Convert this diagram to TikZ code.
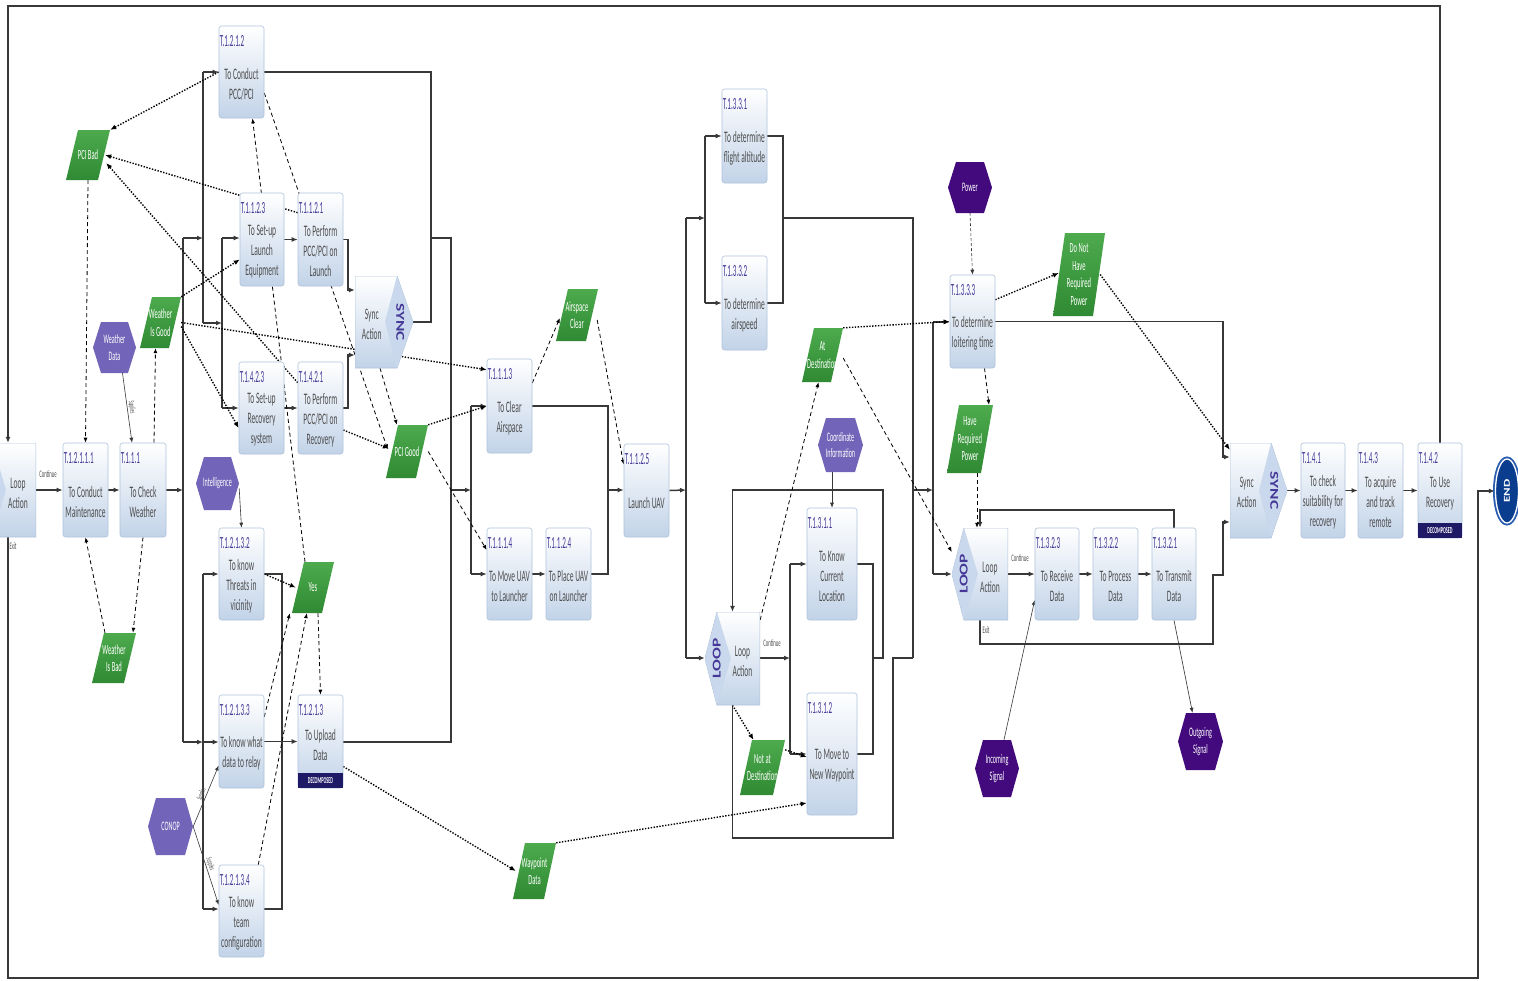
\documentclass[tikz,border=0pt]{standalone}
\usepackage{fontspec}
\setmainfont{Carlito}
\newfontfamily\nfd[FakeStretch=0.47]{Carlito}
\newfontfamily\nfi[FakeStretch=0.42]{Carlito}
\newfontfamily\widef[FakeStretch=1.45]{Carlito}
\usetikzlibrary{arrows.meta,shapes.geometric}
\pgfdeclarelayer{bg}
\pgfsetlayers{bg,main}
\definecolor{taskblue}{HTML}{C2D3E8}
\definecolor{taskborder}{HTML}{AFC3DB}
\definecolor{idblue}{HTML}{463897}
\definecolor{descgray}{HTML}{4E4E4E}
\definecolor{gtop}{HTML}{4DAA4D}
\definecolor{gbot}{HTML}{2F8A33}
\definecolor{lpurple}{HTML}{7264B8}
\definecolor{dpurple}{HTML}{420A7C}
\definecolor{navy}{HTML}{1E1A66}
\definecolor{linec}{HTML}{383838}
\definecolor{endblue}{HTML}{0B3D8F}
\definecolor{endring}{HTML}{2A5DB0}
\definecolor{loopin}{HTML}{C9D8EC}
\newcommand\task[7]{%
  \node[taskbox, minimum width={#4-#2}, minimum height={#5-#3}] (#1) at ({(#2+#4)/2},{(#3+#5)/2}) {};
  \node[idtxt, anchor=west] (#1i) at ([xshift=1pt,yshift=-15pt]#1.north west) {#6};
  \node[desctxt] (#1d) at ([yshift=-12pt]#1.center) {#7};
}
\newcommand\taskD[7]{%
  \node[taskbox, minimum width={#4-#2}, minimum height={#5-#3}] (#1) at ({(#2+#4)/2},{(#3+#5)/2}) {};
  \node[decomp, minimum width={#4-#2}, anchor=south] (#1x) at (#1.south) {DECOMPOSED};
  \node[idtxt, anchor=west] (#1i) at ([xshift=1pt,yshift=-15pt]#1.north west) {#6};
  \node[desctxt] (#1d) at ([yshift=-3pt]#1.center) {#7};
}
\newcommand\cond[6]{%
  \node[condbox, minimum width={#4-#2}, minimum height={#5-#3}] (#1) at ({(#2+#4)/2},{(#3+#5)/2}) {#6};
}
\newcommand\hexa[7]{%
  \node[hexbox=#6, minimum width={#4-#2}, minimum height={#5-#3}] (#1) at ({(#2+#4)/2},{(#3+#5)/2}) {#7};
}
\newcommand\loopshape[5]{%
  \node[loopbox, minimum width={#4-#2}, minimum height={#5-#3}] (#1) at ({(#2+#4)/2},{(#3+#5)/2}) {};
  \node[desctxt] (#1t) at ([xshift=10pt,yshift=-3pt]#1.center) {Loop\\Action};
}
\newcommand\loopnode[5]{%
  \loopshape{#1}{#2}{#3}{#4}{#5}
  \node[looptxt, rotate=90] (#1l) at ([xshift=12pt]#1.west) {LOOP};
}
\newcommand\syncnode[5]{%
  \node[syncbox, minimum width={#4-#2}, minimum height={#5-#3}] (#1) at ({(#2+#4)/2},{(#3+#5)/2}) {};
  \node[looptxt, rotate=-90] (#1l) at ([xshift=-13pt]#1.east) {SYNC};
  \node[desctxt] (#1t) at ([xshift=17pt,yshift=-2pt]#1.west) {Sync\\Action};
}
\begin{document}
\begin{tikzpicture}[x=1pt,y=-1pt,
  taskbox/.style={rectangle, rounded corners=2.5pt, draw=taskborder, line width=0.6pt, top color=white, bottom color=taskblue, inner sep=0pt},
  idtxt/.style={font=\nfi\fontsize{17}{19}\selectfont, text=idblue, inner sep=0pt},
  desctxt/.style={font=\nfd\fontsize{16}{20}\selectfont, text=descgray, align=center, inner sep=0pt},
  decomp/.style={rectangle, fill=navy, text=white, font=\nfd\bfseries\fontsize{9}{9}\selectfont, minimum height=15pt, inner sep=0pt},
  condbox/.style={rectangle, inner sep=0pt, align=center, text=white, font=\nfd\fontsize{14}{17.5}\selectfont,
    path picture={\shade[top color=gtop, bottom color=gbot]
      (path picture bounding box.south west) -- ([xshift=12pt]path picture bounding box.north west) --
      (path picture bounding box.north east) -- ([xshift=-12pt]path picture bounding box.south east) -- cycle;}},
  hexbox/.style={rectangle, inner sep=0pt, align=center, text=white, font=\nfd\fontsize{13}{16.5}\selectfont,
    path picture={\fill[#1]
      (path picture bounding box.west) -- ([xshift=8pt]path picture bounding box.north west) --
      ([xshift=-8pt]path picture bounding box.north east) -- (path picture bounding box.east) --
      ([xshift=-8pt]path picture bounding box.south east) -- ([xshift=8pt]path picture bounding box.south west) -- cycle;}},
  loopbox/.style={rectangle, inner sep=0pt,
    path picture={\path[draw=taskborder, line width=0.8pt, top color=white, bottom color=taskblue]
      (path picture bounding box.west) -- ([xshift=12pt]path picture bounding box.north west) --
      (path picture bounding box.north east) -- (path picture bounding box.south east) --
      ([xshift=12pt]path picture bounding box.south west) -- cycle;
      \fill[loopin] (path picture bounding box.west) -- ([xshift=12pt]path picture bounding box.north west) --
      ([xshift=26pt]path picture bounding box.west) -- ([xshift=12pt]path picture bounding box.south west) -- cycle;}},
  syncbox/.style={rectangle, inner sep=0pt,
    path picture={\path[draw=taskborder, line width=0.8pt, top color=white, bottom color=taskblue]
      (path picture bounding box.north west) -- ([xshift=-16pt]path picture bounding box.north east) --
      (path picture bounding box.east) -- ([xshift=-16pt]path picture bounding box.south east) --
      (path picture bounding box.south west) -- cycle;
      \fill[loopin] (path picture bounding box.east) -- ([xshift=-16pt]path picture bounding box.north east) --
      ([xshift=-28pt]path picture bounding box.east) -- ([xshift=-16pt]path picture bounding box.south east) -- cycle;}},
  looptxt/.style={font=\widef\bfseries\fontsize{12}{12}\selectfont, text=idblue, inner sep=0pt},
  endnode/.style={ellipse, minimum width=23pt, minimum height=64pt, fill=endblue, draw=white, line width=1.3pt,
    preaction={draw=endring, line width=5pt}, text=white, font=\widef\bfseries\fontsize{9}{9}\selectfont, inner sep=0pt},
  smalltxt/.style={font=\nfd\fontsize{10}{10}\selectfont, text=descgray, inner sep=0pt},
  clabel/.style={font=\nfd\fontsize{8}{8}\selectfont, text=descgray, inner sep=1pt},
  flowline/.style={draw=linec, line width=1.5pt},
  flow/.style={flowline, -{Latex[length=6pt,width=5pt]}},
  thinarr/.style={draw=linec, line width=0.6pt, -{Latex[length=5pt,width=4pt]}},
  thindash/.style={thinarr, dash pattern=on 3pt off 2pt},
  dasharr/.style={draw=black, line width=0.8pt, dash pattern=on 4pt off 3pt, -{Latex[length=5pt,width=4pt]}},
  dotarr/.style={draw=black, line width=1.4pt, dash pattern=on 1.4pt off 1.5pt, -{Latex[length=6pt,width=5pt]}}
]
\useasboundingbox (0,0) rectangle (1518,980);
\begin{pgfonlayer}{bg}
\fill[white] (0,0) rectangle (1518,980);
\end{pgfonlayer}

% ---------------- task boxes
\task{t12111}{63}{443}{108}{537}{T.1.2.1.1.1}{To Conduct\\Maintenance}
\task{t111}{120}{443}{166}{537}{T.1.1.1}{To Check\\Weather}
\task{t1212}{219}{26}{264}{118}{T.1.2.1.2}{To Conduct\\PCC/PCI}
\task{t1123}{240}{193}{284}{286}{T.1.1.2.3}{To Set-up\\Launch\\Equipment}
\task{t1121}{298}{193}{343}{286}{T.1.1.2.1}{To Perform\\PCC/PCI on\\Launch}
\task{t1423}{239}{362}{284}{454}{T.1.4.2.3}{To Set-up\\Recovery\\system}
\task{t1421}{298}{362}{343}{454}{T.1.4.2.1}{To Perform\\PCC/PCI on\\Recovery}
\task{t12132}{219}{528}{264}{620}{T.1.2.1.3.2}{To know\\Threats in\\vicinity}
\task{t12133}{219}{695}{264}{788}{T.1.2.1.3.3}{To know what\\data to relay}
\taskD{t1213}{298}{695}{343}{788}{T.1.2.1.3}{To Upload\\Data}
\task{t12134}{219}{865}{264}{957}{T.1.2.1.3.4}{To know\\team\\configuration}
\task{t1113}{487}{359}{532}{453}{T.1.1.1.3}{To Clear\\Airspace}
\task{t1114}{487}{528}{532}{620}{T.1.1.1.4}{To Move UAV\\to Launcher}
\task{t1124}{546}{528}{591}{620}{T.1.1.2.4}{To Place UAV\\on Launcher}
\task{t1125}{624}{444}{669}{537}{T.1.1.2.5}{Launch UAV}
\task{t1331}{722}{89}{767}{183}{T.1.3.3.1}{To determine\\flight altitude}
\task{t1332}{722}{256}{767}{350}{T.1.3.3.2}{To determine\\airspeed}
\task{t1311}{807}{508}{857}{620}{T.1.3.1.1}{To Know\\Current\\Location}
\task{t1312}{807}{693}{857}{815}{T.1.3.1.2}{To Move to\\New Waypoint}
\task{t1333}{950}{275}{995}{368}{T.1.3.3.3}{To determine\\loitering time}
\task{t1323}{1035}{528}{1079}{620}{T.1.3.2.3}{To Receive\\Data}
\task{t1322}{1093}{528}{1138}{620}{T.1.3.2.2}{To Process\\Data}
\task{t1321}{1152}{528}{1196}{620}{T.1.3.2.1}{To Transmit\\Data}
\task{t141}{1301}{443}{1345}{538}{T.1.4.1}{To check\\suitability for\\recovery}
\task{t143}{1358}{443}{1403}{538}{T.1.4.3}{To acquire\\and track\\remote}
\taskD{t142}{1418}{443}{1462}{538}{T.1.4.2}{To Use\\Recovery}

% ---------------- loop / sync / end
\loopshape{loopL}{-20}{443}{36}{537}
\loopnode{loop2}{705}{612}{760}{705}
\loopnode{loop3}{952}{528}{1008}{620}
\syncnode{sync1}{355}{276}{413}{368}
\syncnode{sync2}{1230}{443}{1287}{538}
\node[endnode] (end) at (1507,491) {\rotatebox{90}{END}};

% ---------------- conditions
\cond{pcibad}{66}{130}{110}{180}{PCI Bad}
\cond{wgood}{140}{297}{181}{348}{Weather\\Is Good}
\cond{wbad}{92}{633}{136}{683}{Weather\\Is Bad}
\cond{aclear}{556}{289}{598}{341}{Airspace\\Clear}
\cond{pcigood}{386}{425}{428}{478}{PCI Good}
\cond{yes}{292}{562}{334}{613}{Yes}
\cond{atdest}{802}{328}{843}{382}{At\\Destination}
\cond{havepow}{947}{405}{993}{473}{Have\\Required\\Power}
\cond{nothave}{1053}{233}{1105}{316}{Do Not\\Have\\Required\\Power}
\cond{notdest}{740}{740}{785}{795}{Not at\\Destination}
\cond{wpdata}{513}{843}{556}{899}{Waypoint\\Data}

% ---------------- resources
\hexa{wdata}{93}{322}{136}{373}{lpurple}{Weather\\Data}
\hexa{intel}{196}{457}{239}{510}{lpurple}{Intelligence}
\hexa{conop}{148}{798}{193}{855}{lpurple}{CONOP}
\hexa{coord}{818}{418}{863}{472}{lpurple}{Coordinate\\Information}
\hexa{power}{948}{162}{992}{213}{dpurple}{Power}
\hexa{incoming}{975}{740}{1019}{797}{dpurple}{Incoming\\Signal}
\hexa{outgoing}{1178}{713}{1223}{770}{dpurple}{Outgoing\\Signal}

% ---------------- small labels
\node[smalltxt] (lc1) at (48,474) {Continue};
\node[smalltxt] (le1) at (13,546) {Exit};
\node[smalltxt] (lc2) at (772,643) {Continue};
\node[smalltxt] (lc3) at (1020,558) {Continue};
\node[smalltxt] (le3) at (986,630) {Exit};

% ---------------- junction coordinates
\coordinate (b1t) at (183,238); \coordinate (b1b) at (183,742); \coordinate (b1m) at (183,490);
\coordinate (b2t) at (203,72); \coordinate (b2b) at (203,323); \coordinate (b2m) at (203,238);
\coordinate (b3t) at (222,238); \coordinate (b3b) at (222,408); \coordinate (b3m) at (222,323);
\coordinate (b4t) at (203,574); \coordinate (b4b) at (203,909); \coordinate (b4m) at (203,742);
\coordinate (j1t) at (282,574); \coordinate (j1b) at (282,909);
\coordinate (j2t) at (431,72); \coordinate (j2b) at (431,322); \coordinate (j2m) at (431,238);
\coordinate (j3t) at (451,238); \coordinate (j3b) at (451,742); \coordinate (j3m) at (451,490);
\coordinate (b5t) at (471,406); \coordinate (b5b) at (471,574); \coordinate (b5m) at (471,490);
\coordinate (j4t) at (608,406); \coordinate (j4b) at (608,574); \coordinate (j4m) at (608,490);
\coordinate (b6t) at (686,218); \coordinate (b6b) at (686,658); \coordinate (b6m) at (686,490);
\coordinate (b7t) at (705,136); \coordinate (b7b) at (705,303); \coordinate (b7m) at (705,218);
\coordinate (j5t) at (783,136); \coordinate (j5b) at (783,303); \coordinate (j5m) at (783,218);
\coordinate (j6t) at (913,218); \coordinate (j6b) at (913,658); \coordinate (j6m) at (913,490);
\coordinate (b8t) at (933,322); \coordinate (b8b) at (933,574); \coordinate (b8m) at (933,490);
\coordinate (b9t) at (790,564); \coordinate (b9b) at (790,754); \coordinate (b9m) at (790,658);
\coordinate (j7t) at (873,564); \coordinate (j7b) at (873,754); \coordinate (j7m) at (873,658);

\begin{pgfonlayer}{bg}
% ---------------- solid flow
\draw[flow] (loopL.east) -- (t12111.west);
\draw[flow] (t12111.east) -- (t111.west);
\draw[flow] (t111.east) -- (b1m);
\draw[flowline] (b1t) -- (b1b);
\draw[flow] (b1t) -- (b2m);
\draw[flowline] (b2t) -- (b2b);
\draw[flow] (b2t) -- (t1212.west |- b2t);
\draw[flow] (b2b) -- (b3m);
\draw[flowline] (b3t) -- (b3b);
\draw[flow] (b3t) -- (t1123.west |- b3t);
\draw[flow] (b3b) -- (t1423.west |- b3b);
\draw[flow] (b1b) -- (b4m);
\draw[flowline] (b4t) -- (b4b);
\draw[flow] (b4t) -- (t12132.west |- b4t);
\draw[flow] (b4m) -- (t12133.west |- b4m);
\draw[flow] (b4b) -- (t12134.west |- b4b);
\draw[flowline] (t12132.east |- j1t) -- (j1t) -- (j1b) -- (t12134.east |- j1b);
\draw[flow] (t12133.east) -- (t1213.west);
\draw[flow] (t1123.east) -- (t1121.west);
\draw[flow] (t1423.east) -- (t1421.west);
\draw[flow] (t1121.east) -| (348,290) -- (sync1.west |- 348,290);
\draw[flow] (t1421.east) -| (348,355) -- (sync1.west |- 348,355);
\draw[flowline] (t1212.east) -- (j2t) -- (j2b) -- (sync1.east);
\draw[flowline] (j2m) -- (j3t) -- (j3b) -- (t1213.east |- j3b);
\draw[flow] (j3m) -- (b5m);
\draw[flowline] (b5t) -- (b5b);
\draw[flow] (b5t) -- (t1113.west |- b5t);
\draw[flow] (b5b) -- (t1114.west |- b5b);
\draw[flow] (t1114.east) -- (t1124.west);
\draw[flowline] (t1113.east |- j4t) -- (j4t) -- (j4b) -- (t1124.east |- j4b);
\draw[flow] (j4m) -- (t1125.west |- j4m);
\draw[flow] (t1125.east) -- (b6m);
\draw[flowline] (b6t) -- (b6b);
\draw[flow] (b6t) -- (b7m);
\draw[flowline] (b7t) -- (b7b);
\draw[flow] (b7t) -- (t1331.west |- b7t);
\draw[flow] (b7b) -- (t1332.west |- b7b);
\draw[flowline] (t1331.east |- j5t) -- (j5t) -- (j5b) -- (t1332.east |- j5b);
\draw[flowline] (j5m) -- (j6t) -- (j6b);
\draw[flow] (b6b) -- (loop2.west |- b6b);
\draw[flow] (loop2.east |- b9m) -- (b9m);
\draw[flowline] (b9t) -- (b9b);
\draw[flow] (b9t) -- (t1311.west |- b9t);
\draw[flow] (b9b) -- (t1312.west |- b9b);
\draw[flowline] (t1311.east |- j7t) -- (j7t) -- (j7b) -- (t1312.east |- j7b);
\draw[flow] (j7m) -- (883,658) -- (883,490) -- (loop2.north |- 0,490) -- (loop2.north);
\draw[flowline] (loop2.south) -- (loop2.south |- 0,838) -- (893,838) -- (893,658) -- (j6b);
\draw[flow] (j6m) -- (b8m);
\draw[flowline] (b8t) -- (b8b);
\draw[flow] (b8t) -- (t1333.west |- b8t);
\draw[flow] (b8b) -- (loop3.west |- b8b);
\draw[flow] (loop3.east) -- (t1323.west);
\draw[flow] (t1323.east) -- (t1322.west);
\draw[flow] (t1322.east) -- (t1321.west);
\draw[flow] (t1321.north) -- (t1321.north |- 0,510) -- (loop3.north |- 0,510) -- (loop3.north);
\draw[flow] (loop3.south) -- (loop3.south |- 0,644) -- (1213,644) -- (1213,575) -- (1223,575) -- (1223,522) -- (sync2.west |- 0,522);
\draw[flow] (t1333.east) -- (1223,321.5) -- (1223,457) -- (sync2.west |- 0,457);
\draw[flow] (sync2.east) -- (t141.west);
\draw[flow] (t141.east) -- (t143.west);
\draw[flow] (t143.east) -- (t142.west);
\draw[flow] (t142.north) -- (t142.north |- 0,6) -- (loopL.north |- 0,6) -- (loopL.north);
\draw[flow] (loopL.south) -- (loopL.south |- 0,978) -- (1478,978) -- (1478,491) -- (end.west);

% ---------------- thin resource links
\draw[thinarr] ([xshift=8pt]wdata.south) -- node[clabel, midway, sloped, above] (lw) {Supplies} ([xshift=-11pt]t111.north);
\draw[thinarr] ([yshift=-5pt]intel.east) -- (t12132.north);
\draw[thinarr] (conop.east) -- node[clabel, midway, sloped, above] (lcon1) {Supplies} ([yshift=-24pt]t12133.west);
\draw[thinarr] (conop.east) -- node[clabel, midway, sloped, above] (lcon2) {Supplies} ([yshift=6pt]t12134.west);
\draw[thinarr] (coord.south -| t1311.north) -- (t1311.north);
\draw[thindash] (power.south) -- (t1333.north);
\draw[thinarr] ([xshift=7pt]incoming.north) -- ([yshift=-26pt]t1323.west);
\draw[thinarr] (t1321.south) -- ([xshift=-8pt]outgoing.north);

% ---------------- dashed condition links
\draw[dasharr] (pcibad.south) -- (t12111.north);
\draw[dasharr] ([xshift=11pt]t111.north) -- ([xshift=-5pt]wgood.south);
\draw[dasharr] ([xshift=-9pt]wbad.north) -- (t12111.south);
\draw[dasharr] (t111.south) -- ([xshift=19pt]wbad.north);
\draw[dasharr] ([xshift=-8pt]yes.north) -- ([xshift=11pt]t1212.south);
\draw[dasharr] ([xshift=5pt]yes.south) -- (t1213.north);
\draw[dasharr] ([yshift=-22pt]t12133.north east) -- ([xshift=-2pt]yes.south west);
\draw[dasharr] ([xshift=-6pt]t12134.north east) -- ([xshift=15pt]yes.south west);
\draw[dasharr] ([yshift=23pt]t1113.east) -- ([xshift=4pt,yshift=-3pt]aclear.west);
\draw[dasharr] ([xshift=-1pt,yshift=-5pt]aclear.east) -- ([yshift=-21pt]t1125.north west);
\draw[dasharr] (pcigood.east) -- ([yshift=24pt]t1114.west);
\draw[dasharr] ([yshift=-21pt]t1212.east) -- ([xshift=2pt,yshift=2pt]pcigood.west);
\draw[dasharr] ([xshift=-4pt]sync1.south) -- ([xshift=-10pt]pcigood.north);
\draw[dasharr] ([yshift=-8pt]loop2.north east) -- ([xshift=-4pt]atdest.south);
\draw[dasharr] ([yshift=-3pt]atdest.east) -- ([yshift=22pt]loop3.west);
\draw[dasharr] ([xshift=12pt]t1333.south) -- ([xshift=19pt]havepow.north);
\draw[dasharr] ([xshift=7pt]havepow.south) -- ([xshift=-3pt]loop3.north);

% ---------------- dotted condition links
\draw[dotarr] (t1212.west) -- (pcibad.north east);
\draw[dotarr] ([yshift=-20pt]t1121.north west) -- ([xshift=-5pt]pcibad.east);
\draw[dotarr] ([yshift=-21pt]t1421.north west) -- ([xshift=-4pt,yshift=-8pt]pcibad.east);
\draw[dotarr] (wgood.north east) -- ([yshift=-20pt]t1123.west);
\draw[dotarr] (wgood.east) -- ([yshift=-11pt]t1113.north west);
\draw[dotarr] ([yshift=-4pt]wgood.east) -- ([yshift=-20pt]t1423.west);
\draw[dotarr] ([yshift=-22pt]t1421.east) -- ([xshift=3pt,yshift=3pt]pcigood.west);
\draw[dotarr] (pcigood.north east) -- (t1113.west);
\draw[dotarr] (t12132.east) -- ([xshift=4pt]yes.west);
\draw[dotarr] ([yshift=-25pt]t1213.east) -- ([xshift=3pt]wpdata.west);
\draw[dotarr] (wpdata.north east) -- ([yshift=-49pt]t1312.west);
\draw[dotarr] (loop2.south) -- ([xshift=-9pt]notdest.north);
\draw[dotarr] ([yshift=-10pt]notdest.north east) -- ([yshift=-3pt]t1312.west);
\draw[dotarr] (atdest.north east) -- (t1333.west);
\draw[dotarr] ([yshift=-25pt]t1333.north east) -- ([xshift=6pt,yshift=1.5pt]nothave.west);
\draw[dotarr] ([xshift=-5pt]nothave.east) -- ([yshift=-7pt]sync2.north west);
\end{pgfonlayer}
\end{tikzpicture}
\end{document}
